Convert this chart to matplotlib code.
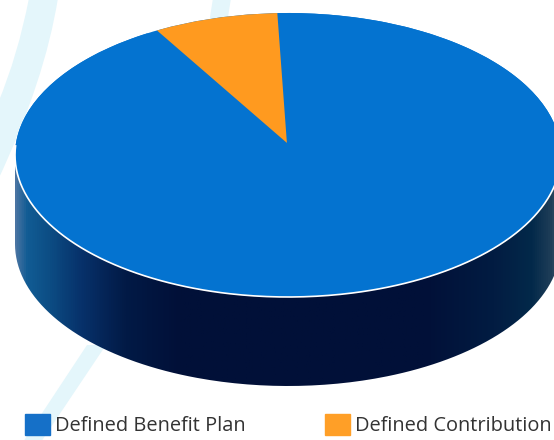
import numpy as np
import matplotlib
matplotlib.use("Agg")
import matplotlib.pyplot as plt
from matplotlib.colors import LinearSegmentedColormap
from matplotlib.patches import Ellipse, Patch, PathPatch
from matplotlib.path import Path

labels = ["Defined Benefit Plan", "Defined Contribution"]
values = [92, 8]

BLUE = "#0473d0"
ORANGE = "#ff9a1f"
STREAK = "#e4f6fb"

W, H = 554, 440
# pie geometry in pixels
cx, cy, rx, ry = 288, 155, 273, 142
depth = 89

fig = plt.figure(figsize=(W / 100, H / 100), dpi=100)

# background streaks, in pixel coordinates
bg = fig.add_axes([0, 0, 1, 1])
bg.set_xlim(0, W)
bg.set_ylim(H, 0)
bg.axis("off")
bg.add_patch(PathPatch(Path([(29, -2), (18, 55), (-2, 103), (-2, 180), (45, 80), (58, -2), (29, -2)],
                            [Path.MOVETO, Path.CURVE3, Path.CURVE3, Path.LINETO,
                             Path.CURVE3, Path.CURVE3, Path.CLOSEPOLY]),
                       fc=STREAK, ec="none"))
bg.fill([213, 231, 226, 208], [-2, -2, 30, 30], color=STREAK, lw=0)
bg.fill([87, 106, 41, 23], [345, 345, 442, 442], color=STREAK, lw=0)

# pie axes: one data unit is the pie radius, so the circle becomes an ellipse
ax = fig.add_axes([0, 0, 1, 1])
ax.patch.set_alpha(0)

wedges, _ = ax.pie(values, colors=[BLUE, ORANGE], startangle=121, counterclock=True)
ax.set_aspect("auto")
ax.axis("off")

# side wall with a left to right shading
d = depth / ry
t = np.linspace(np.pi, 2 * np.pi, 200)
side_x = np.concatenate([np.cos(t), np.cos(t[::-1])])
side_y = np.concatenate([np.sin(t) - d, np.sin(t[::-1])])
side_clip = Path(np.column_stack([side_x, side_y]))
shade = LinearSegmentedColormap.from_list("side", [
    (0.00, "#4a74a2"), (0.02, "#115c94"), (0.06, "#0c4d84"), (0.12, "#07316a"),
    (0.20, "#021a46"), (0.30, "#011038"), (0.75, "#011038"), (0.88, "#021c42"),
    (0.95, "#03294a"), (0.985, "#1f3e58"), (1.00, "#46566a"),
])
img = ax.imshow(np.linspace(0, 1, 500)[None, :], cmap=shade, aspect="auto",
                extent=(-1, 1, -1 - d, 0.2), zorder=0.5)
img.set_clip_path(PathPatch(side_clip, transform=ax.transData))
ax.set_xlim(-cx / rx, (W - cx) / rx)
ax.set_ylim(-(H - cy) / ry, cy / ry)

# top face
top = Ellipse((0, 0), 2, 2, fc=BLUE, ec="none", zorder=0.8)
ax.add_patch(top)
wedges[0].set_zorder(0.9)

# the orange tip sits above the ellipse centre, its arc is cut by the rim
wedges[1].set_center((-0.004, 0.085))
wedges[1].set_radius(1.3)
wedges[1].set_zorder(1)
wedges[1].set_clip_on(True)
wedges[1].set_clip_path(top)

# white rim along the front edge
t = np.linspace(np.radians(-184), np.radians(10), 300)
ax.plot(np.cos(t), np.sin(t), color="white", lw=1.2, zorder=2, solid_capstyle="butt")
t = np.linspace(np.radians(118), np.radians(176), 100)
ax.plot(np.cos(t), np.sin(t), color="white", lw=0.8, alpha=0.8, zorder=0.7)

handles = [Patch(color="#1570c8"), Patch(color="#ff9f27")]
ax.legend(handles, labels, ncol=2, frameon=False, loc="lower left",
          bbox_to_anchor=(25 / W, 4 / H), bbox_transform=fig.transFigure,
          borderpad=0, borderaxespad=0, handlelength=1.25, handleheight=1.25,
          handletextpad=0.25, columnspacing=3.95, labelcolor="#333333",
          prop={"family": "Open Sans", "size": 14.4})

fig.savefig("out.png", dpi=100)
